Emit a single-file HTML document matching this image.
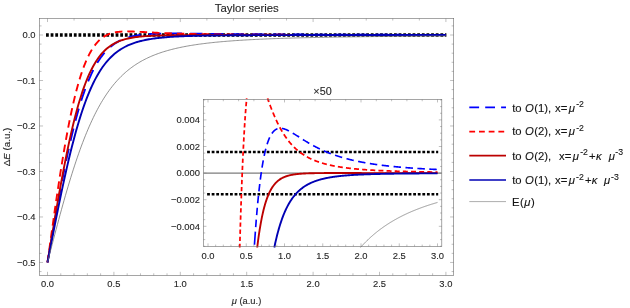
<!DOCTYPE html>
<html><head><meta charset="utf-8"><title>Taylor series</title>
<style>
html,body{margin:0;padding:0;background:#fff;}
body{width:630px;height:308px;position:relative;overflow:hidden;font-family:"Liberation Sans",sans-serif;color:#262626;}
.t{position:absolute;white-space:nowrap;line-height:1;-webkit-text-stroke:0.12px currentColor;}
.t.tk{letter-spacing:0;}
.t.c{transform:translate(-50%,-50%);}
.t.r{transform:translate(-100%,-50%);}
.t.l{transform:translate(0,-50%);}
.t.rot{transform:translate(-50%,-50%) rotate(-90deg);}
.k{color:#141414;position:absolute;white-space:nowrap;line-height:1;-webkit-text-stroke:0.12px currentColor;}
.t i,.k i{font-style:italic;}
#tx{position:absolute;left:0;top:0;width:630px;height:308px;will-change:transform;}
</style></head><body>
<svg width="630" height="308" viewBox="0 0 630 308" style="position:absolute;left:0;top:0">
<rect width="630" height="308" fill="#fff"/>
<defs><clipPath id="cm"><rect x="39.45" y="18.45" width="414.25" height="256.95"/></clipPath>
<clipPath id="ci"><rect x="203.45" y="97.95" width="238.35" height="149.95"/></clipPath></defs>
<g clip-path="url(#cm)" fill="none" stroke-linecap="butt" stroke-linejoin="round">
<path d="M46.00 35.00 H446.40" stroke="#000" stroke-width="3.30" stroke-dasharray="2.8 1.84"/>
<path d="M47.50 262.45 L48.16 258.60 L49.49 250.91 L50.82 243.24 L52.15 235.61 L53.48 228.03 L54.80 220.52 L56.13 213.10 L57.46 205.76 L58.79 198.54 L60.12 191.43 L61.44 184.45 L62.77 177.62 L64.10 170.93 L65.43 164.40 L66.76 158.04 L68.08 151.85 L69.41 145.84 L70.74 140.02 L72.07 134.38 L73.40 128.93 L74.72 123.68 L76.05 118.62 L77.38 113.76 L78.71 109.09 L80.04 104.61 L81.36 100.33 L82.69 96.24 L84.02 92.34 L85.35 88.62 L86.68 85.09 L88.00 81.73 L89.33 78.55 L90.66 75.53 L91.99 72.68 L93.32 69.99 L94.64 67.45 L95.97 65.05 L97.30 62.80 L98.63 60.68 L99.96 58.69 L101.28 56.82 L102.61 55.08 L103.94 53.44 L105.27 51.91 L106.60 50.49 L107.92 49.15 L109.25 47.91 L110.58 46.76 L111.91 45.68 L113.24 44.68 L114.56 43.75 L115.89 42.89 L117.22 42.10 L118.55 41.36 L119.88 40.67 L121.20 40.04 L122.53 39.46 L123.86 38.92 L125.19 38.42 L126.52 37.96 L127.84 37.54 L129.17 37.15 L130.50 36.79 L131.83 36.47 L133.16 36.17 L134.48 35.89 L135.81 35.64 L137.14 35.41 L138.47 35.20 L139.80 35.01 L141.12 34.83 L142.45 34.67 L143.78 34.53 L145.11 34.40 L146.44 34.28 L147.76 34.18 L149.09 34.08 L150.42 33.99 L151.75 33.92 L153.08 33.85 L154.40 33.79 L155.73 33.73 L157.06 33.69 L158.39 33.64 L159.72 33.61 L161.04 33.58 L162.37 33.55 L163.70 33.53 L165.03 33.51 L166.36 33.50 L167.68 33.49 L169.01 33.48 L170.34 33.47 L171.67 33.47 L173.00 33.47 L174.32 33.47 L175.65 33.47 L176.98 33.48 L178.31 33.48 L179.64 33.49 L180.96 33.50 L182.29 33.51 L183.62 33.52 L184.95 33.53 L186.28 33.54 L187.60 33.55 L188.93 33.57 L190.26 33.58 L191.59 33.60 L192.92 33.61 L194.24 33.63 L195.57 33.64 L196.90 33.66 L198.23 33.68 L199.56 33.69 L200.88 33.71 L202.21 33.73 L203.54 33.74 L204.87 33.76 L206.20 33.78 L207.52 33.79 L208.85 33.81 L210.18 33.83 L211.51 33.84 L212.84 33.86 L214.16 33.87 L215.49 33.89 L216.82 33.91 L218.15 33.92 L219.48 33.94 L220.80 33.95 L222.13 33.97 L223.46 33.98 L224.79 34.00 L226.12 34.01 L227.44 34.03 L228.77 34.04 L230.10 34.06 L231.43 34.07 L232.76 34.09 L234.08 34.10 L235.41 34.11 L236.74 34.13 L238.07 34.14 L239.40 34.15 L240.72 34.17 L242.05 34.18 L243.38 34.19 L244.71 34.20 L246.04 34.21 L247.36 34.23 L248.69 34.24 L250.02 34.25 L251.35 34.26 L252.68 34.27 L254.00 34.28 L255.33 34.29 L256.66 34.30 L257.99 34.31 L259.32 34.32 L260.64 34.33 L261.97 34.34 L263.30 34.35 L264.63 34.36 L265.96 34.37 L267.28 34.38 L268.61 34.39 L269.94 34.40 L271.27 34.41 L272.60 34.42 L273.92 34.43 L275.25 34.43 L276.58 34.44 L277.91 34.45 L279.24 34.46 L280.56 34.47 L281.89 34.47 L283.22 34.48 L284.55 34.49 L285.88 34.50 L287.20 34.50 L288.53 34.51 L289.86 34.52 L291.19 34.52 L292.52 34.53 L293.84 34.54 L295.17 34.54 L296.50 34.55 L297.83 34.56 L299.16 34.56 L300.48 34.57 L301.81 34.57 L303.14 34.58 L304.47 34.58 L305.80 34.59 L307.12 34.60 L308.45 34.60 L309.78 34.61 L311.11 34.61 L312.44 34.62 L313.76 34.62 L315.09 34.63 L316.42 34.63 L317.75 34.64 L319.08 34.64 L320.40 34.65 L321.73 34.65 L323.06 34.66 L324.39 34.66 L325.72 34.66 L327.04 34.67 L328.37 34.67 L329.70 34.68 L331.03 34.68 L332.36 34.69 L333.68 34.69 L335.01 34.69 L336.34 34.70 L337.67 34.70 L339.00 34.70 L340.32 34.71 L341.65 34.71 L342.98 34.71 L344.31 34.72 L345.64 34.72 L346.96 34.73 L348.29 34.73 L349.62 34.73 L350.95 34.74 L352.28 34.74 L353.60 34.74 L354.93 34.74 L356.26 34.75 L357.59 34.75 L358.92 34.75 L360.24 34.76 L361.57 34.76 L362.90 34.76 L364.23 34.76 L365.56 34.77 L366.88 34.77 L368.21 34.77 L369.54 34.78 L370.87 34.78 L372.20 34.78 L373.52 34.78 L374.85 34.79 L376.18 34.79 L377.51 34.79 L378.84 34.79 L380.16 34.79 L381.49 34.80 L382.82 34.80 L384.15 34.80 L385.48 34.80 L386.80 34.81 L388.13 34.81 L389.46 34.81 L390.79 34.81 L392.12 34.81 L393.44 34.82 L394.77 34.82 L396.10 34.82 L397.43 34.82 L398.76 34.82 L400.08 34.83 L401.41 34.83 L402.74 34.83 L404.07 34.83 L405.40 34.83 L406.72 34.84 L408.05 34.84 L409.38 34.84 L410.71 34.84 L412.04 34.84 L413.36 34.84 L414.69 34.85 L416.02 34.85 L417.35 34.85 L418.68 34.85 L420.00 34.85 L421.33 34.85 L422.66 34.85 L423.99 34.86 L425.32 34.86 L426.64 34.86 L427.97 34.86 L429.30 34.86 L430.63 34.86 L431.96 34.86 L433.28 34.87 L434.61 34.87 L435.94 34.87 L437.27 34.87 L438.60 34.87 L439.92 34.87 L441.25 34.87 L442.58 34.87 L443.91 34.88 L445.24 34.88 L445.90 34.88" stroke="#0000ff" stroke-width="1.90" stroke-dasharray="12.5 8.15" stroke-dashoffset="0.00"/>
<path d="M47.50 262.45 L48.16 257.64 L49.49 248.03 L50.82 238.46 L52.15 228.96 L53.48 219.55 L54.80 210.25 L56.13 201.10 L57.46 192.11 L58.79 183.30 L60.12 174.70 L61.44 166.32 L62.77 158.17 L64.10 150.28 L65.43 142.65 L66.76 135.29 L68.08 128.22 L69.41 121.43 L70.74 114.94 L72.07 108.74 L73.40 102.85 L74.72 97.25 L76.05 91.95 L77.38 86.95 L78.71 82.23 L80.04 77.80 L81.36 73.65 L82.69 69.78 L84.02 66.16 L85.35 62.80 L86.68 59.68 L88.00 56.80 L89.33 54.15 L90.66 51.70 L91.99 49.46 L93.32 47.41 L94.64 45.55 L95.97 43.85 L97.30 42.31 L98.63 40.92 L99.96 39.67 L101.28 38.54 L102.61 37.54 L103.94 36.64 L105.27 35.85 L106.60 35.15 L107.92 34.53 L109.25 33.99 L110.58 33.52 L111.91 33.12 L113.24 32.77 L114.56 32.47 L115.89 32.22 L117.22 32.02 L118.55 31.85 L119.88 31.71 L121.20 31.61 L122.53 31.53 L123.86 31.47 L125.19 31.44 L126.52 31.42 L127.84 31.42 L129.17 31.43 L130.50 31.46 L131.83 31.49 L133.16 31.53 L134.48 31.58 L135.81 31.64 L137.14 31.70 L138.47 31.76 L139.80 31.83 L141.12 31.90 L142.45 31.97 L143.78 32.05 L145.11 32.12 L146.44 32.20 L147.76 32.27 L149.09 32.34 L150.42 32.42 L151.75 32.49 L153.08 32.56 L154.40 32.63 L155.73 32.70 L157.06 32.77 L158.39 32.84 L159.72 32.90 L161.04 32.97 L162.37 33.03 L163.70 33.09 L165.03 33.15 L166.36 33.21 L167.68 33.26 L169.01 33.32 L170.34 33.37 L171.67 33.42 L173.00 33.47 L174.32 33.51 L175.65 33.56 L176.98 33.60 L178.31 33.65 L179.64 33.69 L180.96 33.73 L182.29 33.77 L183.62 33.80 L184.95 33.84 L186.28 33.87 L187.60 33.91 L188.93 33.94 L190.26 33.97 L191.59 34.00 L192.92 34.03 L194.24 34.06 L195.57 34.09 L196.90 34.11 L198.23 34.14 L199.56 34.16 L200.88 34.19 L202.21 34.21 L203.54 34.23 L204.87 34.25 L206.20 34.27 L207.52 34.29 L208.85 34.31 L210.18 34.33 L211.51 34.35 L212.84 34.37 L214.16 34.38 L215.49 34.40 L216.82 34.42 L218.15 34.43 L219.48 34.45 L220.80 34.46 L222.13 34.47 L223.46 34.49 L224.79 34.50 L226.12 34.51 L227.44 34.52 L228.77 34.54 L230.10 34.55 L231.43 34.56 L232.76 34.57 L234.08 34.58 L235.41 34.59 L236.74 34.60 L238.07 34.61 L239.40 34.62 L240.72 34.63 L242.05 34.64 L243.38 34.64 L244.71 34.65 L246.04 34.66 L247.36 34.67 L248.69 34.68 L250.02 34.68 L251.35 34.69 L252.68 34.70 L254.00 34.70 L255.33 34.71 L256.66 34.72 L257.99 34.72 L259.32 34.73 L260.64 34.73 L261.97 34.74 L263.30 34.74 L264.63 34.75 L265.96 34.75 L267.28 34.76 L268.61 34.76 L269.94 34.77 L271.27 34.77 L272.60 34.78 L273.92 34.78 L275.25 34.79 L276.58 34.79 L277.91 34.80 L279.24 34.80 L280.56 34.80 L281.89 34.81 L283.22 34.81 L284.55 34.81 L285.88 34.82 L287.20 34.82 L288.53 34.82 L289.86 34.83 L291.19 34.83 L292.52 34.83 L293.84 34.84 L295.17 34.84 L296.50 34.84 L297.83 34.84 L299.16 34.85 L300.48 34.85 L301.81 34.85 L303.14 34.86 L304.47 34.86 L305.80 34.86 L307.12 34.86 L308.45 34.87 L309.78 34.87 L311.11 34.87 L312.44 34.87 L313.76 34.87 L315.09 34.88 L316.42 34.88 L317.75 34.88 L319.08 34.88 L320.40 34.88 L321.73 34.89 L323.06 34.89 L324.39 34.89 L325.72 34.89 L327.04 34.89 L328.37 34.89 L329.70 34.90 L331.03 34.90 L332.36 34.90 L333.68 34.90 L335.01 34.90 L336.34 34.90 L337.67 34.90 L339.00 34.91 L340.32 34.91 L341.65 34.91 L342.98 34.91 L344.31 34.91 L345.64 34.91 L346.96 34.91 L348.29 34.92 L349.62 34.92 L350.95 34.92 L352.28 34.92 L353.60 34.92 L354.93 34.92 L356.26 34.92 L357.59 34.92 L358.92 34.92 L360.24 34.93 L361.57 34.93 L362.90 34.93 L364.23 34.93 L365.56 34.93 L366.88 34.93 L368.21 34.93 L369.54 34.93 L370.87 34.93 L372.20 34.93 L373.52 34.93 L374.85 34.94 L376.18 34.94 L377.51 34.94 L378.84 34.94 L380.16 34.94 L381.49 34.94 L382.82 34.94 L384.15 34.94 L385.48 34.94 L386.80 34.94 L388.13 34.94 L389.46 34.94 L390.79 34.94 L392.12 34.95 L393.44 34.95 L394.77 34.95 L396.10 34.95 L397.43 34.95 L398.76 34.95 L400.08 34.95 L401.41 34.95 L402.74 34.95 L404.07 34.95 L405.40 34.95 L406.72 34.95 L408.05 34.95 L409.38 34.95 L410.71 34.95 L412.04 34.95 L413.36 34.96 L414.69 34.96 L416.02 34.96 L417.35 34.96 L418.68 34.96 L420.00 34.96 L421.33 34.96 L422.66 34.96 L423.99 34.96 L425.32 34.96 L426.64 34.96 L427.97 34.96 L429.30 34.96 L430.63 34.96 L431.96 34.96 L433.28 34.96 L434.61 34.96 L435.94 34.96 L437.27 34.96 L438.60 34.96 L439.92 34.96 L441.25 34.96 L442.58 34.96 L443.91 34.97 L445.24 34.97 L445.90 34.97" stroke="#ff0000" stroke-width="1.90" stroke-dasharray="7.5 4.9" stroke-dashoffset="0.00"/>
<path d="M47.50 262.45 L48.16 258.46 L49.49 250.46 L50.82 242.47 L52.15 234.51 L53.48 226.59 L54.80 218.73 L56.13 210.96 L57.46 203.28 L58.79 195.72 L60.12 188.28 L61.44 180.99 L62.77 173.85 L64.10 166.88 L65.43 160.09 L66.76 153.49 L68.08 147.09 L69.41 140.89 L70.74 134.91 L72.07 129.13 L73.40 123.58 L74.72 118.25 L76.05 113.14 L77.38 108.25 L78.71 103.59 L80.04 99.15 L81.36 94.92 L82.69 90.91 L84.02 87.12 L85.35 83.52 L86.68 80.13 L88.00 76.94 L89.33 73.93 L90.66 71.11 L91.99 68.46 L93.32 65.98 L94.64 63.66 L95.97 61.49 L97.30 59.47 L98.63 57.59 L99.96 55.84 L101.28 54.21 L102.61 52.70 L103.94 51.30 L105.27 50.01 L106.60 48.81 L107.92 47.70 L109.25 46.68 L110.58 45.74 L111.91 44.86 L113.24 44.06 L114.56 43.32 L115.89 42.64 L117.22 42.02 L118.55 41.44 L119.88 40.91 L121.20 40.43 L122.53 39.98 L123.86 39.57 L125.19 39.20 L126.52 38.85 L127.84 38.53 L129.17 38.24 L130.50 37.98 L131.83 37.73 L133.16 37.51 L134.48 37.30 L135.81 37.12 L137.14 36.94 L138.47 36.79 L139.80 36.64 L141.12 36.51 L142.45 36.39 L143.78 36.27 L145.11 36.17 L146.44 36.08 L147.76 35.99 L149.09 35.91 L150.42 35.84 L151.75 35.77 L153.08 35.71 L154.40 35.65 L155.73 35.60 L157.06 35.55 L158.39 35.51 L159.72 35.47 L161.04 35.43 L162.37 35.40 L163.70 35.37 L165.03 35.34 L166.36 35.31 L167.68 35.29 L169.01 35.26 L170.34 35.24 L171.67 35.22 L173.00 35.21 L174.32 35.19 L175.65 35.18 L176.98 35.16 L178.31 35.15 L179.64 35.14 L180.96 35.13 L182.29 35.12 L183.62 35.11 L184.95 35.10 L186.28 35.09 L187.60 35.08 L188.93 35.08 L190.26 35.07 L191.59 35.07 L192.92 35.06 L194.24 35.05 L195.57 35.05 L196.90 35.05 L198.23 35.04 L199.56 35.04 L200.88 35.04 L202.21 35.03 L203.54 35.03 L204.87 35.03 L206.20 35.02 L207.52 35.02 L208.85 35.02 L210.18 35.02 L211.51 35.02 L212.84 35.02 L214.16 35.01 L215.49 35.01 L216.82 35.01 L218.15 35.01 L219.48 35.01 L220.80 35.01 L222.13 35.01 L223.46 35.01 L224.79 35.01 L226.12 35.01 L227.44 35.00 L228.77 35.00 L230.10 35.00 L231.43 35.00 L232.76 35.00 L234.08 35.00 L235.41 35.00 L236.74 35.00 L238.07 35.00 L239.40 35.00 L240.72 35.00 L242.05 35.00 L243.38 35.00 L244.71 35.00 L246.04 35.00 L247.36 35.00 L248.69 35.00 L250.02 35.00 L251.35 35.00 L252.68 35.00 L254.00 35.00 L255.33 35.00 L256.66 35.00 L257.99 35.00 L259.32 35.00 L260.64 35.00 L261.97 35.00 L263.30 35.00 L264.63 35.00 L265.96 35.00 L267.28 35.00 L268.61 35.00 L269.94 35.00 L271.27 35.00 L272.60 35.00 L273.92 35.00 L275.25 35.00 L276.58 35.00 L277.91 35.00 L279.24 35.00 L280.56 35.00 L281.89 35.00 L283.22 35.00 L284.55 35.00 L285.88 35.00 L287.20 35.00 L288.53 35.00 L289.86 35.00 L291.19 35.00 L292.52 35.00 L293.84 35.00 L295.17 35.00 L296.50 35.00 L297.83 35.00 L299.16 35.00 L300.48 35.00 L301.81 35.00 L303.14 35.00 L304.47 35.00 L305.80 35.00 L307.12 35.00 L308.45 35.00 L309.78 35.00 L311.11 35.00 L312.44 35.00 L313.76 35.00 L315.09 35.00 L316.42 35.00 L317.75 35.00 L319.08 35.00 L320.40 35.00 L321.73 35.00 L323.06 35.00 L324.39 35.00 L325.72 35.00 L327.04 35.00 L328.37 35.00 L329.70 35.00 L331.03 35.00 L332.36 35.00 L333.68 35.00 L335.01 35.00 L336.34 35.00 L337.67 35.00 L339.00 35.00 L340.32 35.00 L341.65 35.00 L342.98 35.00 L344.31 35.00 L345.64 35.00 L346.96 35.00 L348.29 35.00 L349.62 35.00 L350.95 35.00 L352.28 35.00 L353.60 35.00 L354.93 35.00 L356.26 35.00 L357.59 35.00 L358.92 35.00 L360.24 35.00 L361.57 35.00 L362.90 35.00 L364.23 35.00 L365.56 35.00 L366.88 35.00 L368.21 35.00 L369.54 35.00 L370.87 35.00 L372.20 35.00 L373.52 35.00 L374.85 35.00 L376.18 35.00 L377.51 35.00 L378.84 35.00 L380.16 35.00 L381.49 35.00 L382.82 35.00 L384.15 35.00 L385.48 35.00 L386.80 35.00 L388.13 35.00 L389.46 35.00 L390.79 35.00 L392.12 35.00 L393.44 35.00 L394.77 35.00 L396.10 35.00 L397.43 35.00 L398.76 35.00 L400.08 35.00 L401.41 35.00 L402.74 35.00 L404.07 35.00 L405.40 35.00 L406.72 35.00 L408.05 35.00 L409.38 35.00 L410.71 35.00 L412.04 35.00 L413.36 35.00 L414.69 35.00 L416.02 35.00 L417.35 35.00 L418.68 35.00 L420.00 35.00 L421.33 35.00 L422.66 35.00 L423.99 35.00 L425.32 35.00 L426.64 35.00 L427.97 35.00 L429.30 35.00 L430.63 35.00 L431.96 35.00 L433.28 35.00 L434.61 35.00 L435.94 35.00 L437.27 35.00 L438.60 35.00 L439.92 35.00 L441.25 35.00 L442.58 35.00 L443.91 35.00 L445.24 35.00 L445.90 35.00" stroke="#bc0000" stroke-width="1.90"/>
<path d="M47.50 262.45 L48.16 259.03 L49.49 252.18 L50.82 245.34 L52.15 238.52 L53.48 231.73 L54.80 224.99 L56.13 218.31 L57.46 211.69 L58.79 205.15 L60.12 198.70 L61.44 192.35 L62.77 186.11 L64.10 179.98 L65.43 173.98 L66.76 168.11 L68.08 162.37 L69.41 156.78 L70.74 151.34 L72.07 146.04 L73.40 140.91 L74.72 135.93 L76.05 131.12 L77.38 126.46 L78.71 121.97 L80.04 117.64 L81.36 113.48 L82.69 109.47 L84.02 105.63 L85.35 101.95 L86.68 98.42 L88.00 95.05 L89.33 91.82 L90.66 88.75 L91.99 85.82 L93.32 83.03 L94.64 80.37 L95.97 77.85 L97.30 75.45 L98.63 73.18 L99.96 71.02 L101.28 68.98 L102.61 67.05 L103.94 65.22 L105.27 63.49 L106.60 61.86 L107.92 60.32 L109.25 58.86 L110.58 57.49 L111.91 56.20 L113.24 54.98 L114.56 53.83 L115.89 52.75 L117.22 51.73 L118.55 50.77 L119.88 49.87 L121.20 49.02 L122.53 48.22 L123.86 47.47 L125.19 46.77 L126.52 46.10 L127.84 45.48 L129.17 44.89 L130.50 44.34 L131.83 43.82 L133.16 43.33 L134.48 42.87 L135.81 42.44 L137.14 42.03 L138.47 41.65 L139.80 41.29 L141.12 40.95 L142.45 40.64 L143.78 40.34 L145.11 40.05 L146.44 39.79 L147.76 39.54 L149.09 39.30 L150.42 39.08 L151.75 38.87 L153.08 38.67 L154.40 38.49 L155.73 38.31 L157.06 38.14 L158.39 37.99 L159.72 37.84 L161.04 37.70 L162.37 37.57 L163.70 37.44 L165.03 37.33 L166.36 37.22 L167.68 37.11 L169.01 37.01 L170.34 36.92 L171.67 36.83 L173.00 36.74 L174.32 36.66 L175.65 36.59 L176.98 36.51 L178.31 36.45 L179.64 36.38 L180.96 36.32 L182.29 36.26 L183.62 36.21 L184.95 36.15 L186.28 36.10 L187.60 36.06 L188.93 36.01 L190.26 35.97 L191.59 35.93 L192.92 35.89 L194.24 35.85 L195.57 35.82 L196.90 35.78 L198.23 35.75 L199.56 35.72 L200.88 35.69 L202.21 35.67 L203.54 35.64 L204.87 35.61 L206.20 35.59 L207.52 35.57 L208.85 35.55 L210.18 35.52 L211.51 35.51 L212.84 35.49 L214.16 35.47 L215.49 35.45 L216.82 35.43 L218.15 35.42 L219.48 35.40 L220.80 35.39 L222.13 35.37 L223.46 35.36 L224.79 35.35 L226.12 35.34 L227.44 35.32 L228.77 35.31 L230.10 35.30 L231.43 35.29 L232.76 35.28 L234.08 35.27 L235.41 35.26 L236.74 35.25 L238.07 35.25 L239.40 35.24 L240.72 35.23 L242.05 35.22 L243.38 35.22 L244.71 35.21 L246.04 35.20 L247.36 35.20 L248.69 35.19 L250.02 35.18 L251.35 35.18 L252.68 35.17 L254.00 35.17 L255.33 35.16 L256.66 35.16 L257.99 35.15 L259.32 35.15 L260.64 35.14 L261.97 35.14 L263.30 35.13 L264.63 35.13 L265.96 35.13 L267.28 35.12 L268.61 35.12 L269.94 35.12 L271.27 35.11 L272.60 35.11 L273.92 35.11 L275.25 35.10 L276.58 35.10 L277.91 35.10 L279.24 35.10 L280.56 35.09 L281.89 35.09 L283.22 35.09 L284.55 35.09 L285.88 35.08 L287.20 35.08 L288.53 35.08 L289.86 35.08 L291.19 35.07 L292.52 35.07 L293.84 35.07 L295.17 35.07 L296.50 35.07 L297.83 35.07 L299.16 35.06 L300.48 35.06 L301.81 35.06 L303.14 35.06 L304.47 35.06 L305.80 35.06 L307.12 35.06 L308.45 35.05 L309.78 35.05 L311.11 35.05 L312.44 35.05 L313.76 35.05 L315.09 35.05 L316.42 35.05 L317.75 35.05 L319.08 35.04 L320.40 35.04 L321.73 35.04 L323.06 35.04 L324.39 35.04 L325.72 35.04 L327.04 35.04 L328.37 35.04 L329.70 35.04 L331.03 35.04 L332.36 35.04 L333.68 35.03 L335.01 35.03 L336.34 35.03 L337.67 35.03 L339.00 35.03 L340.32 35.03 L341.65 35.03 L342.98 35.03 L344.31 35.03 L345.64 35.03 L346.96 35.03 L348.29 35.03 L349.62 35.03 L350.95 35.03 L352.28 35.03 L353.60 35.03 L354.93 35.02 L356.26 35.02 L357.59 35.02 L358.92 35.02 L360.24 35.02 L361.57 35.02 L362.90 35.02 L364.23 35.02 L365.56 35.02 L366.88 35.02 L368.21 35.02 L369.54 35.02 L370.87 35.02 L372.20 35.02 L373.52 35.02 L374.85 35.02 L376.18 35.02 L377.51 35.02 L378.84 35.02 L380.16 35.02 L381.49 35.02 L382.82 35.02 L384.15 35.02 L385.48 35.02 L386.80 35.02 L388.13 35.02 L389.46 35.02 L390.79 35.01 L392.12 35.01 L393.44 35.01 L394.77 35.01 L396.10 35.01 L397.43 35.01 L398.76 35.01 L400.08 35.01 L401.41 35.01 L402.74 35.01 L404.07 35.01 L405.40 35.01 L406.72 35.01 L408.05 35.01 L409.38 35.01 L410.71 35.01 L412.04 35.01 L413.36 35.01 L414.69 35.01 L416.02 35.01 L417.35 35.01 L418.68 35.01 L420.00 35.01 L421.33 35.01 L422.66 35.01 L423.99 35.01 L425.32 35.01 L426.64 35.01 L427.97 35.01 L429.30 35.01 L430.63 35.01 L431.96 35.01 L433.28 35.01 L434.61 35.01 L435.94 35.01 L437.27 35.01 L438.60 35.01 L439.92 35.01 L441.25 35.01 L442.58 35.01 L443.91 35.01 L445.24 35.01 L445.90 35.01" stroke="#0000b4" stroke-width="1.90"/>
<path d="M47.50 262.45 L48.16 259.88 L49.49 254.75 L50.82 249.63 L52.15 244.53 L53.48 239.44 L54.80 234.39 L56.13 229.36 L57.46 224.38 L58.79 219.44 L60.12 214.54 L61.44 209.71 L62.77 204.93 L64.10 200.21 L65.43 195.56 L66.76 190.98 L68.08 186.47 L69.41 182.04 L70.74 177.70 L72.07 173.43 L73.40 169.25 L74.72 165.16 L76.05 161.16 L77.38 157.25 L78.71 153.43 L80.04 149.70 L81.36 146.07 L82.69 142.53 L84.02 139.08 L85.35 135.73 L86.68 132.47 L88.00 129.30 L89.33 126.23 L90.66 123.25 L91.99 120.36 L93.32 117.56 L94.64 114.84 L95.97 112.21 L97.30 109.67 L98.63 107.21 L99.96 104.84 L101.28 102.54 L102.61 100.32 L103.94 98.18 L105.27 96.11 L106.60 94.11 L107.92 92.19 L109.25 90.33 L110.58 88.54 L111.91 86.81 L113.24 85.15 L114.56 83.54 L115.89 81.99 L117.22 80.50 L118.55 79.07 L119.88 77.68 L121.20 76.35 L122.53 75.07 L123.86 73.83 L125.19 72.64 L126.52 71.49 L127.84 70.38 L129.17 69.32 L130.50 68.29 L131.83 67.30 L133.16 66.35 L134.48 65.43 L135.81 64.54 L137.14 63.69 L138.47 62.87 L139.80 62.07 L141.12 61.31 L142.45 60.57 L143.78 59.86 L145.11 59.17 L146.44 58.51 L147.76 57.87 L149.09 57.25 L150.42 56.66 L151.75 56.08 L153.08 55.53 L154.40 54.99 L155.73 54.48 L157.06 53.98 L158.39 53.49 L159.72 53.02 L161.04 52.57 L162.37 52.14 L163.70 51.71 L165.03 51.30 L166.36 50.91 L167.68 50.53 L169.01 50.16 L170.34 49.80 L171.67 49.45 L173.00 49.11 L174.32 48.79 L175.65 48.47 L176.98 48.16 L178.31 47.87 L179.64 47.58 L180.96 47.30 L182.29 47.03 L183.62 46.77 L184.95 46.51 L186.28 46.27 L187.60 46.03 L188.93 45.79 L190.26 45.57 L191.59 45.35 L192.92 45.13 L194.24 44.93 L195.57 44.73 L196.90 44.53 L198.23 44.34 L199.56 44.15 L200.88 43.97 L202.21 43.80 L203.54 43.63 L204.87 43.46 L206.20 43.30 L207.52 43.14 L208.85 42.99 L210.18 42.84 L211.51 42.69 L212.84 42.55 L214.16 42.42 L215.49 42.28 L216.82 42.15 L218.15 42.02 L219.48 41.90 L220.80 41.78 L222.13 41.66 L223.46 41.54 L224.79 41.43 L226.12 41.32 L227.44 41.21 L228.77 41.11 L230.10 41.01 L231.43 40.91 L232.76 40.81 L234.08 40.71 L235.41 40.62 L236.74 40.53 L238.07 40.44 L239.40 40.35 L240.72 40.27 L242.05 40.19 L243.38 40.10 L244.71 40.03 L246.04 39.95 L247.36 39.87 L248.69 39.80 L250.02 39.72 L251.35 39.65 L252.68 39.58 L254.00 39.52 L255.33 39.45 L256.66 39.38 L257.99 39.32 L259.32 39.26 L260.64 39.20 L261.97 39.14 L263.30 39.08 L264.63 39.02 L265.96 38.96 L267.28 38.91 L268.61 38.85 L269.94 38.80 L271.27 38.75 L272.60 38.70 L273.92 38.65 L275.25 38.60 L276.58 38.55 L277.91 38.50 L279.24 38.46 L280.56 38.41 L281.89 38.37 L283.22 38.32 L284.55 38.28 L285.88 38.24 L287.20 38.20 L288.53 38.16 L289.86 38.12 L291.19 38.08 L292.52 38.04 L293.84 38.00 L295.17 37.97 L296.50 37.93 L297.83 37.89 L299.16 37.86 L300.48 37.82 L301.81 37.79 L303.14 37.76 L304.47 37.72 L305.80 37.69 L307.12 37.66 L308.45 37.63 L309.78 37.60 L311.11 37.57 L312.44 37.54 L313.76 37.51 L315.09 37.48 L316.42 37.45 L317.75 37.43 L319.08 37.40 L320.40 37.37 L321.73 37.35 L323.06 37.32 L324.39 37.29 L325.72 37.27 L327.04 37.24 L328.37 37.22 L329.70 37.20 L331.03 37.17 L332.36 37.15 L333.68 37.13 L335.01 37.10 L336.34 37.08 L337.67 37.06 L339.00 37.04 L340.32 37.02 L341.65 37.00 L342.98 36.98 L344.31 36.96 L345.64 36.94 L346.96 36.92 L348.29 36.90 L349.62 36.88 L350.95 36.86 L352.28 36.84 L353.60 36.82 L354.93 36.81 L356.26 36.79 L357.59 36.77 L358.92 36.75 L360.24 36.74 L361.57 36.72 L362.90 36.70 L364.23 36.69 L365.56 36.67 L366.88 36.65 L368.21 36.64 L369.54 36.62 L370.87 36.61 L372.20 36.59 L373.52 36.58 L374.85 36.56 L376.18 36.55 L377.51 36.54 L378.84 36.52 L380.16 36.51 L381.49 36.49 L382.82 36.48 L384.15 36.47 L385.48 36.46 L386.80 36.44 L388.13 36.43 L389.46 36.42 L390.79 36.40 L392.12 36.39 L393.44 36.38 L394.77 36.37 L396.10 36.36 L397.43 36.34 L398.76 36.33 L400.08 36.32 L401.41 36.31 L402.74 36.30 L404.07 36.29 L405.40 36.28 L406.72 36.27 L408.05 36.26 L409.38 36.25 L410.71 36.24 L412.04 36.23 L413.36 36.22 L414.69 36.21 L416.02 36.20 L417.35 36.19 L418.68 36.18 L420.00 36.17 L421.33 36.16 L422.66 36.15 L423.99 36.14 L425.32 36.13 L426.64 36.12 L427.97 36.11 L429.30 36.10 L430.63 36.10 L431.96 36.09 L433.28 36.08 L434.61 36.07 L435.94 36.06 L437.27 36.05 L438.60 36.05 L439.92 36.04 L441.25 36.03 L442.58 36.02 L443.91 36.02 L445.24 36.01 L445.90 36.00" stroke="#6e6e6e" stroke-width="0.75"/>
</g>
<path d="M47.50 275.40 v-3.60 M47.50 18.45 v3.60 M60.78 275.40 v-2.10 M74.06 275.40 v-2.10 M74.06 18.45 v2.10 M87.34 275.40 v-2.10 M100.62 275.40 v-2.10 M100.62 18.45 v2.10 M113.90 275.40 v-3.60 M127.18 275.40 v-2.10 M127.18 18.45 v2.10 M140.46 275.40 v-2.10 M153.74 275.40 v-2.10 M153.74 18.45 v2.10 M167.02 275.40 v-2.10 M180.30 275.40 v-3.60 M180.30 18.45 v3.60 M193.58 275.40 v-2.10 M206.86 275.40 v-2.10 M206.86 18.45 v2.10 M220.14 275.40 v-2.10 M233.42 275.40 v-2.10 M233.42 18.45 v2.10 M246.70 275.40 v-3.60 M259.98 275.40 v-2.10 M259.98 18.45 v2.10 M273.26 275.40 v-2.10 M286.54 275.40 v-2.10 M286.54 18.45 v2.10 M299.82 275.40 v-2.10 M313.10 275.40 v-3.60 M313.10 18.45 v3.60 M326.38 275.40 v-2.10 M339.66 275.40 v-2.10 M339.66 18.45 v2.10 M352.94 275.40 v-2.10 M366.22 275.40 v-2.10 M366.22 18.45 v2.10 M379.50 275.40 v-3.60 M392.78 275.40 v-2.10 M392.78 18.45 v2.10 M406.06 275.40 v-2.10 M419.34 275.40 v-2.10 M419.34 18.45 v2.10 M432.62 275.40 v-2.10 M445.90 275.40 v-3.60 M445.90 18.45 v3.60 M39.45 271.55 h2.10 M453.70 271.55 h-2.10 M39.45 262.45 h3.60 M453.70 262.45 h-3.60 M39.45 253.35 h2.10 M453.70 253.35 h-2.10 M39.45 244.25 h2.10 M453.70 244.25 h-2.10 M39.45 235.16 h2.10 M453.70 235.16 h-2.10 M39.45 226.06 h2.10 M453.70 226.06 h-2.10 M39.45 216.96 h3.60 M453.70 216.96 h-3.60 M39.45 207.86 h2.10 M453.70 207.86 h-2.10 M39.45 198.76 h2.10 M453.70 198.76 h-2.10 M39.45 189.67 h2.10 M453.70 189.67 h-2.10 M39.45 180.57 h2.10 M453.70 180.57 h-2.10 M39.45 171.47 h3.60 M453.70 171.47 h-3.60 M39.45 162.37 h2.10 M453.70 162.37 h-2.10 M39.45 153.27 h2.10 M453.70 153.27 h-2.10 M39.45 144.18 h2.10 M453.70 144.18 h-2.10 M39.45 135.08 h2.10 M453.70 135.08 h-2.10 M39.45 125.98 h3.60 M453.70 125.98 h-3.60 M39.45 116.88 h2.10 M453.70 116.88 h-2.10 M39.45 107.78 h2.10 M453.70 107.78 h-2.10 M39.45 98.69 h2.10 M453.70 98.69 h-2.10 M39.45 89.59 h2.10 M453.70 89.59 h-2.10 M39.45 80.49 h3.60 M453.70 80.49 h-3.60 M39.45 71.39 h2.10 M453.70 71.39 h-2.10 M39.45 62.29 h2.10 M453.70 62.29 h-2.10 M39.45 53.20 h2.10 M453.70 53.20 h-2.10 M39.45 44.10 h2.10 M453.70 44.10 h-2.10 M39.45 35.00 h3.60 M453.70 35.00 h-3.60 M39.45 25.90 h2.10 M453.70 25.90 h-2.10" stroke="#808080" stroke-width="0.50" fill="none"/>
<rect x="39.45" y="18.45" width="414.25" height="256.95" fill="none" stroke="#6a6a6a" stroke-width="0.60"/>
<rect x="203.45" y="99.45" width="238.35" height="146.95" fill="#fff"/>
<g clip-path="url(#ci)" fill="none" stroke-linecap="butt" stroke-linejoin="round">
<path d="M203.45 173.10 H441.80" stroke="#7c7c7c" stroke-width="1.05"/>
<path d="M207.10 151.95 H438.20" stroke="#000" stroke-width="2.50" stroke-dasharray="2.8 1.78"/>
<path d="M207.10 194.25 H438.20" stroke="#000" stroke-width="2.50" stroke-dasharray="2.8 1.78"/>
<path d="M254.45 244.80 L254.66 241.56 L255.05 236.00 L255.37 231.59" stroke="#0000ff" stroke-width="1.65"/>
<path d="M255.37 231.59 L255.43 230.68 L255.81 225.57 L256.19 220.68 L256.58 216.00 L256.96 211.51 L257.34 207.22 L257.73 203.11 L258.11 199.17 L258.49 195.41 L258.87 191.81 L259.25 188.37 L259.64 185.08 L260.02 181.93 L260.40 178.93 L260.79 176.06 L261.17 173.33 L261.55 170.71 L261.93 168.22 L262.31 165.85 L262.70 163.58 L263.08 161.43 L263.46 159.37 L263.85 157.42 L264.23 155.56 L264.61 153.79 L264.99 152.11 L265.38 150.52 L265.76 149.00 L266.14 147.56 L266.52 146.20 L266.90 144.91 L267.29 143.69 L267.67 142.53 L268.05 141.44 L268.44 140.41 L268.82 139.43 L269.20 138.52 L269.58 137.65 L269.97 136.84 L270.35 136.08 L270.73 135.36 L271.11 134.69 L271.50 134.07 L271.88 133.48 L272.26 132.94 L272.64 132.43 L273.02 131.96 L273.41 131.53 L273.79 131.13 L274.17 130.76 L274.56 130.42 L274.94 130.12 L275.32 129.84 L275.70 129.58 L276.09 129.36 L276.47 129.15 L276.85 128.98 L277.23 128.82 L277.62 128.69 L278.00 128.57 L278.38 128.48 L278.76 128.40 L279.14 128.35 L279.53 128.31 L279.91 128.28 L280.29 128.28 L280.68 128.28 L281.06 128.30 L281.44 128.34 L281.82 128.39 L282.20 128.45 L282.59 128.52 L282.97 128.60 L283.35 128.69 L283.74 128.80 L284.12 128.91 L284.50 129.03 L284.88 129.16 L285.26 129.30 L285.65 129.44 L286.03 129.60 L286.41 129.76 L286.80 129.92 L287.18 130.09 L287.56 130.27 L287.94 130.46 L288.32 130.64 L288.71 130.84 L289.09 131.04 L289.47 131.24 L289.86 131.44 L290.24 131.65 L290.62 131.87 L291.00 132.08 L291.38 132.30 L291.77 132.53 L292.15 132.75 L292.53 132.98 L292.92 133.21 L293.30 133.44 L293.68 133.67 L294.06 133.91 L294.44 134.14 L294.83 134.38 L295.21 134.62 L295.59 134.86 L295.98 135.10 L296.36 135.34 L296.74 135.58 L297.12 135.83 L297.50 136.07 L297.89 136.31 L298.27 136.56 L298.65 136.80 L299.03 137.04 L299.42 137.29 L299.80 137.53 L300.18 137.78 L300.56 138.02 L300.95 138.26 L301.33 138.50 L301.71 138.75 L302.10 138.99 L302.48 139.23 L302.86 139.47 L303.24 139.71 L303.62 139.95 L304.01 140.18 L304.39 140.42 L304.77 140.66 L305.15 140.89 L305.54 141.13 L305.92 141.36 L306.30 141.59 L306.69 141.82 L307.07 142.05 L307.45 142.28 L307.83 142.51 L308.22 142.73 L308.60 142.96 L308.98 143.18 L309.36 143.41 L309.75 143.63 L310.13 143.85 L310.51 144.07 L310.89 144.28 L311.27 144.50 L311.66 144.71 L312.04 144.93 L312.42 145.14 L312.81 145.35 L313.19 145.56 L313.57 145.77 L313.95 145.97 L314.34 146.18 L314.72 146.38 L315.10 146.58 L315.48 146.78 L315.87 146.98 L316.25 147.18 L316.63 147.38 L317.01 147.57 L317.39 147.76 L317.78 147.96 L318.16 148.15 L318.54 148.33 L318.93 148.52 L319.31 148.71 L319.69 148.89 L320.07 149.08 L320.45 149.26 L320.84 149.44 L321.22 149.62 L321.60 149.80 L321.99 149.97 L322.37 150.15 L322.75 150.32 L323.13 150.49 L323.51 150.66 L323.90 150.83 L324.28 151.00 L324.66 151.17 L325.05 151.33 L325.43 151.50 L325.81 151.66 L326.19 151.82 L326.57 151.98 L326.96 152.14 L327.34 152.29 L327.72 152.45 L328.11 152.60 L328.49 152.76 L328.87 152.91 L329.25 153.06 L329.63 153.21 L330.02 153.36 L330.40 153.51 L330.78 153.65 L331.17 153.80 L331.55 153.94 L331.93 154.08 L332.31 154.22 L332.69 154.36 L333.08 154.50 L333.46 154.64 L333.84 154.77 L334.23 154.91 L334.61 155.04 L334.99 155.18 L335.37 155.31 L335.75 155.44 L336.14 155.57 L336.52 155.69 L336.90 155.82 L337.28 155.95 L337.67 156.07 L338.05 156.20 L338.43 156.32 L338.81 156.44 L339.20 156.56 L339.58 156.68 L339.96 156.80 L340.35 156.92 L340.73 157.03 L341.11 157.15 L341.49 157.26 L341.88 157.38 L342.26 157.49 L342.64 157.60 L343.02 157.71 L343.40 157.82 L343.79 157.93 L344.17 158.04 L344.55 158.15 L344.94 158.25 L345.32 158.36 L345.70 158.46 L346.08 158.57 L346.47 158.67 L346.85 158.77 L347.23 158.87 L347.61 158.97 L348.00 159.07 L348.38 159.17 L348.76 159.27 L349.14 159.36 L349.52 159.46 L349.91 159.55 L350.29 159.65 L350.67 159.74 L351.06 159.83 L351.44 159.92 L351.82 160.02 L352.20 160.11 L352.59 160.19 L352.97 160.28 L353.35 160.37 L353.73 160.46 L354.12 160.54 L354.50 160.63 L354.88 160.72 L355.26 160.80 L355.64 160.88 L356.03 160.97 L356.41 161.05 L356.79 161.13 L357.17 161.21 L357.56 161.29 L357.94 161.37 L358.32 161.45 L358.70 161.53 L359.09 161.60 L359.47 161.68 L359.85 161.76 L360.24 161.83 L360.62 161.91 L361.00 161.98 L361.38 162.06 L361.76 162.13 L362.15 162.20 L362.53 162.27 L362.91 162.34 L363.30 162.41 L363.68 162.49 L364.06 162.55 L364.44 162.62 L364.82 162.69 L365.21 162.76 L365.59 162.83 L365.97 162.89 L366.36 162.96 L366.74 163.03 L367.12 163.09 L367.50 163.16 L367.88 163.22 L368.27 163.28 L368.65 163.35 L369.03 163.41 L369.41 163.47 L369.80 163.53 L370.18 163.59 L370.56 163.65 L370.94 163.71 L371.33 163.77 L371.71 163.83 L372.09 163.89 L372.48 163.95 L372.86 164.01 L373.24 164.06 L373.62 164.12 L374.00 164.18 L374.39 164.23 L374.77 164.29 L375.15 164.34 L375.53 164.40 L375.92 164.45 L376.30 164.50 L376.68 164.56 L377.06 164.61 L377.45 164.66 L377.83 164.72 L378.21 164.77 L378.60 164.82 L378.98 164.87 L379.36 164.92 L379.74 164.97 L380.12 165.02 L380.51 165.07 L380.89 165.12 L381.27 165.17 L381.65 165.21 L382.04 165.26 L382.42 165.31 L382.80 165.36 L383.19 165.40 L383.57 165.45 L383.95 165.49 L384.33 165.54 L384.72 165.58 L385.10 165.63 L385.48 165.67 L385.86 165.72 L386.25 165.76 L386.63 165.81 L387.01 165.85 L387.39 165.89 L387.77 165.93 L388.16 165.98 L388.54 166.02 L388.92 166.06 L389.31 166.10 L389.69 166.14 L390.07 166.18 L390.45 166.22 L390.84 166.26 L391.22 166.30 L391.60 166.34 L391.98 166.38 L392.37 166.42 L392.75 166.46 L393.13 166.50 L393.51 166.53 L393.89 166.57 L394.28 166.61 L394.66 166.65 L395.04 166.68 L395.43 166.72 L395.81 166.76 L396.19 166.79 L396.57 166.83 L396.96 166.86 L397.34 166.90 L397.72 166.93 L398.10 166.97 L398.49 167.00 L398.87 167.04 L399.25 167.07 L399.63 167.11 L400.01 167.14 L400.40 167.17 L400.78 167.21 L401.16 167.24 L401.55 167.27 L401.93 167.30 L402.31 167.34 L402.69 167.37 L403.08 167.40 L403.46 167.43 L403.84 167.46 L404.22 167.49 L404.61 167.52 L404.99 167.55 L405.37 167.58 L405.75 167.61 L406.13 167.64 L406.52 167.67 L406.90 167.70 L407.28 167.73 L407.66 167.76 L408.05 167.79 L408.43 167.82 L408.81 167.85 L409.19 167.88 L409.58 167.90 L409.96 167.93 L410.34 167.96 L410.73 167.99 L411.11 168.01 L411.49 168.04 L411.87 168.07 L412.25 168.09 L412.64 168.12 L413.02 168.15 L413.40 168.17 L413.78 168.20 L414.17 168.23 L414.55 168.25 L414.93 168.28 L415.31 168.30 L415.70 168.33 L416.08 168.35 L416.46 168.38 L416.85 168.40 L417.23 168.43 L417.61 168.45 L417.99 168.47 L418.38 168.50 L418.76 168.52 L419.14 168.55 L419.52 168.57 L419.90 168.59 L420.29 168.62 L420.67 168.64 L421.05 168.66 L421.44 168.68 L421.82 168.71 L422.20 168.73 L422.58 168.75 L422.97 168.77 L423.35 168.79 L423.73 168.82 L424.11 168.84 L424.50 168.86 L424.88 168.88 L425.26 168.90 L425.64 168.92 L426.02 168.94 L426.41 168.97 L426.79 168.99 L427.17 169.01 L427.56 169.03 L427.94 169.05 L428.32 169.07 L428.70 169.09 L429.09 169.11 L429.47 169.13 L429.85 169.15 L430.23 169.17 L430.62 169.19 L431.00 169.20 L431.38 169.22 L431.76 169.24 L432.14 169.26 L432.53 169.28 L432.91 169.30 L433.29 169.32 L433.68 169.34 L434.06 169.35 L434.44 169.37 L434.82 169.39 L435.21 169.41 L435.59 169.43 L435.97 169.44 L436.35 169.46 L436.74 169.48 L437.12 169.50 L437.50 169.51" stroke="#0000ff" stroke-width="1.65" stroke-dasharray="7.45 4.5" stroke-dashoffset="7.45"/>
<path d="M239.74 247.50 L239.75 247.33 L240.13 233.86 L240.51 221.16 L240.89 209.20 L241.28 197.94 L241.66 187.36 L242.04 177.43 L242.43 168.11 L242.81 159.39 L243.19 151.23 L243.57 143.61 L243.96 136.50 L244.34 129.89 L244.72 123.74 L245.10 118.03 L245.49 112.75 L245.87 107.87 L246.25 103.37 L246.63 99.23 L246.72 98.35" stroke="#ff0000" stroke-width="1.75" stroke-dasharray="4.3 2.8" stroke-dashoffset="0.55"/>
<path d="M267.54 98.35 L267.67 98.70 L268.05 99.77 L268.44 100.83 L268.82 101.88 L269.20 102.92 L269.58 103.95 L269.97 104.97 L270.35 105.98 L270.73 106.99 L271.11 107.98 L271.50 108.96 L271.88 109.93 L272.26 110.89 L272.64 111.84 L273.02 112.77 L273.41 113.70 L273.79 114.61 L274.17 115.51 L274.56 116.40 L274.94 117.27 L275.32 118.14 L275.70 118.99 L276.09 119.83 L276.47 120.65 L276.85 121.47 L277.23 122.27 L277.62 123.06 L278.00 123.84 L278.38 124.61 L278.76 125.36 L279.14 126.10 L279.53 126.83 L279.91 127.55 L280.29 128.26 L280.68 128.96 L281.06 129.64 L281.44 130.31 L281.82 130.98 L282.20 131.63 L282.59 132.27 L282.97 132.90 L283.35 133.52 L283.74 134.13 L284.12 134.73 L284.50 135.31 L284.88 135.89 L285.26 136.46 L285.65 137.02 L286.03 137.57 L286.41 138.11 L286.80 138.64 L287.18 139.16 L287.56 139.68 L287.94 140.18 L288.32 140.68 L288.71 141.16 L289.09 141.64 L289.47 142.11 L289.86 142.57 L290.24 143.03 L290.62 143.47 L291.00 143.91 L291.38 144.34 L291.77 144.77 L292.15 145.18 L292.53 145.59 L292.92 145.99 L293.30 146.39 L293.68 146.78 L294.06 147.16 L294.44 147.53 L294.83 147.90 L295.21 148.26 L295.59 148.62 L295.98 148.97 L296.36 149.31 L296.74 149.65 L297.12 149.98 L297.50 150.31 L297.89 150.63 L298.27 150.94 L298.65 151.25 L299.03 151.56 L299.42 151.86 L299.80 152.15 L300.18 152.44 L300.56 152.73 L300.95 153.01 L301.33 153.28 L301.71 153.55 L302.10 153.82 L302.48 154.08 L302.86 154.33 L303.24 154.59 L303.62 154.83 L304.01 155.08 L304.39 155.32 L304.77 155.56 L305.15 155.79 L305.54 156.02 L305.92 156.24 L306.30 156.46 L306.69 156.68 L307.07 156.89 L307.45 157.10 L307.83 157.31 L308.22 157.51 L308.60 157.71 L308.98 157.91 L309.36 158.10 L309.75 158.30 L310.13 158.48 L310.51 158.67 L310.89 158.85 L311.27 159.03 L311.66 159.20 L312.04 159.38 L312.42 159.55 L312.81 159.72 L313.19 159.88 L313.57 160.04 L313.95 160.20 L314.34 160.36 L314.72 160.52 L315.10 160.67 L315.48 160.82 L315.87 160.97 L316.25 161.11 L316.63 161.25 L317.01 161.40 L317.39 161.53 L317.78 161.67 L318.16 161.81 L318.54 161.94 L318.93 162.07 L319.31 162.20 L319.69 162.33 L320.07 162.45 L320.45 162.57 L320.84 162.70 L321.22 162.81 L321.60 162.93 L321.99 163.05 L322.37 163.16 L322.75 163.28 L323.13 163.39 L323.51 163.50 L323.90 163.60 L324.28 163.71 L324.66 163.81 L325.05 163.92 L325.43 164.02 L325.81 164.12 L326.19 164.22 L326.57 164.31 L326.96 164.41 L327.34 164.50 L327.72 164.60 L328.11 164.69 L328.49 164.78 L328.87 164.87 L329.25 164.96 L329.63 165.04 L330.02 165.13 L330.40 165.21 L330.78 165.30 L331.17 165.38 L331.55 165.46 L331.93 165.54 L332.31 165.62 L332.69 165.70 L333.08 165.77 L333.46 165.85 L333.84 165.92 L334.23 166.00 L334.61 166.07 L334.99 166.14 L335.37 166.21 L335.75 166.28 L336.14 166.35 L336.52 166.42 L336.90 166.49 L337.28 166.55 L337.67 166.62 L338.05 166.68 L338.43 166.74 L338.81 166.81 L339.20 166.87 L339.58 166.93 L339.96 166.99 L340.35 167.05 L340.73 167.11 L341.11 167.17 L341.49 167.22 L341.88 167.28 L342.26 167.34 L342.64 167.39 L343.02 167.45 L343.40 167.50 L343.79 167.55 L344.17 167.60 L344.55 167.66 L344.94 167.71 L345.32 167.76 L345.70 167.81 L346.08 167.86 L346.47 167.91 L346.85 167.95 L347.23 168.00 L347.61 168.05 L348.00 168.09 L348.38 168.14 L348.76 168.18 L349.14 168.23 L349.52 168.27 L349.91 168.32 L350.29 168.36 L350.67 168.40 L351.06 168.44 L351.44 168.49 L351.82 168.53 L352.20 168.57 L352.59 168.61 L352.97 168.65 L353.35 168.69 L353.73 168.72 L354.12 168.76 L354.50 168.80 L354.88 168.84 L355.26 168.87 L355.64 168.91 L356.03 168.95 L356.41 168.98 L356.79 169.02 L357.17 169.05 L357.56 169.09 L357.94 169.12 L358.32 169.15 L358.70 169.19 L359.09 169.22 L359.47 169.25 L359.85 169.28 L360.24 169.32 L360.62 169.35 L361.00 169.38 L361.38 169.41 L361.76 169.44 L362.15 169.47 L362.53 169.50 L362.91 169.53 L363.30 169.56 L363.68 169.59 L364.06 169.62 L364.44 169.64 L364.82 169.67 L365.21 169.70 L365.59 169.73 L365.97 169.75 L366.36 169.78 L366.74 169.81 L367.12 169.83 L367.50 169.86 L367.88 169.88 L368.27 169.91 L368.65 169.93 L369.03 169.96 L369.41 169.98 L369.80 170.01 L370.18 170.03 L370.56 170.06 L370.94 170.08 L371.33 170.10 L371.71 170.13 L372.09 170.15 L372.48 170.17 L372.86 170.19 L373.24 170.21 L373.62 170.24 L374.00 170.26 L374.39 170.28 L374.77 170.30 L375.15 170.32 L375.53 170.34 L375.92 170.36 L376.30 170.38 L376.68 170.40 L377.06 170.42 L377.45 170.44 L377.83 170.46 L378.21 170.48 L378.60 170.50 L378.98 170.52 L379.36 170.54 L379.74 170.56 L380.12 170.58 L380.51 170.59 L380.89 170.61 L381.27 170.63 L381.65 170.65 L382.04 170.67 L382.42 170.68 L382.80 170.70 L383.19 170.72 L383.57 170.73 L383.95 170.75 L384.33 170.77 L384.72 170.78 L385.10 170.80 L385.48 170.82 L385.86 170.83 L386.25 170.85 L386.63 170.86 L387.01 170.88 L387.39 170.89 L387.77 170.91 L388.16 170.92 L388.54 170.94 L388.92 170.95 L389.31 170.97 L389.69 170.98 L390.07 171.00 L390.45 171.01 L390.84 171.03 L391.22 171.04 L391.60 171.05 L391.98 171.07 L392.37 171.08 L392.75 171.10 L393.13 171.11 L393.51 171.12 L393.89 171.13 L394.28 171.15 L394.66 171.16 L395.04 171.17 L395.43 171.19 L395.81 171.20 L396.19 171.21 L396.57 171.22 L396.96 171.24 L397.34 171.25 L397.72 171.26 L398.10 171.27 L398.49 171.28 L398.87 171.30 L399.25 171.31 L399.63 171.32 L400.01 171.33 L400.40 171.34 L400.78 171.35 L401.16 171.36 L401.55 171.37 L401.93 171.39 L402.31 171.40 L402.69 171.41 L403.08 171.42 L403.46 171.43 L403.84 171.44 L404.22 171.45 L404.61 171.46 L404.99 171.47 L405.37 171.48 L405.75 171.49 L406.13 171.50 L406.52 171.51 L406.90 171.52 L407.28 171.53 L407.66 171.54 L408.05 171.55 L408.43 171.56 L408.81 171.57 L409.19 171.58 L409.58 171.59 L409.96 171.59 L410.34 171.60 L410.73 171.61 L411.11 171.62 L411.49 171.63 L411.87 171.64 L412.25 171.65 L412.64 171.66 L413.02 171.67 L413.40 171.67 L413.78 171.68 L414.17 171.69 L414.55 171.70 L414.93 171.71 L415.31 171.72 L415.70 171.72 L416.08 171.73 L416.46 171.74 L416.85 171.75 L417.23 171.76 L417.61 171.76 L417.99 171.77 L418.38 171.78 L418.76 171.79 L419.14 171.79 L419.52 171.80 L419.90 171.81 L420.29 171.82 L420.67 171.82 L421.05 171.83 L421.44 171.84 L421.82 171.85 L422.20 171.85 L422.58 171.86 L422.97 171.87 L423.35 171.87 L423.73 171.88 L424.11 171.89 L424.50 171.89 L424.88 171.90 L425.26 171.91 L425.64 171.91 L426.02 171.92 L426.41 171.93 L426.79 171.93 L427.17 171.94 L427.56 171.95 L427.94 171.95 L428.32 171.96 L428.70 171.97 L429.09 171.97 L429.47 171.98 L429.85 171.98 L430.23 171.99 L430.62 172.00 L431.00 172.00 L431.38 172.01 L431.76 172.01 L432.14 172.02 L432.53 172.03 L432.91 172.03 L433.29 172.04 L433.68 172.04 L434.06 172.05 L434.44 172.05 L434.82 172.06 L435.21 172.06 L435.59 172.07 L435.97 172.08 L436.35 172.08 L436.74 172.09 L437.12 172.09 L437.50 172.10" stroke="#ff0000" stroke-width="1.75" stroke-dasharray="5.0 3.15" stroke-dashoffset="1.17"/>
<path d="M257.22 247.50 L257.34 246.49 L257.73 243.43 L258.11 240.49 L258.49 237.68 L258.87 234.99 L259.25 232.41 L259.64 229.94 L260.02 227.57 L260.40 225.31 L260.79 223.14 L261.17 221.07 L261.55 219.08 L261.93 217.17 L262.31 215.35 L262.70 213.60 L263.08 211.93 L263.46 210.32 L263.85 208.79 L264.23 207.32 L264.61 205.91 L264.99 204.56 L265.38 203.27 L265.76 202.03 L266.14 200.85 L266.52 199.71 L266.90 198.62 L267.29 197.58 L267.67 196.58 L268.05 195.62 L268.44 194.70 L268.82 193.82 L269.20 192.98 L269.58 192.17 L269.97 191.39 L270.35 190.65 L270.73 189.94 L271.11 189.26 L271.50 188.60 L271.88 187.98 L272.26 187.38 L272.64 186.80 L273.02 186.25 L273.41 185.72 L273.79 185.21 L274.17 184.72 L274.56 184.25 L274.94 183.80 L275.32 183.37 L275.70 182.96 L276.09 182.56 L276.47 182.18 L276.85 181.82 L277.23 181.47 L277.62 181.13 L278.00 180.81 L278.38 180.50 L278.76 180.21 L279.14 179.92 L279.53 179.65 L279.91 179.39 L280.29 179.13 L280.68 178.89 L281.06 178.66 L281.44 178.44 L281.82 178.22 L282.20 178.02 L282.59 177.82 L282.97 177.63 L283.35 177.45 L283.74 177.28 L284.12 177.11 L284.50 176.95 L284.88 176.79 L285.26 176.64 L285.65 176.50 L286.03 176.36 L286.41 176.23 L286.80 176.11 L287.18 175.98 L287.56 175.87 L287.94 175.76 L288.32 175.65 L288.71 175.54 L289.09 175.44 L289.47 175.35 L289.86 175.26 L290.24 175.17 L290.62 175.08 L291.00 175.00 L291.38 174.92 L291.77 174.85 L292.15 174.78 L292.53 174.71 L292.92 174.64 L293.30 174.58 L293.68 174.51 L294.06 174.46 L294.44 174.40 L294.83 174.34 L295.21 174.29 L295.59 174.24 L295.98 174.19 L296.36 174.14 L296.74 174.10 L297.12 174.06 L297.50 174.02 L297.89 173.98 L298.27 173.94 L298.65 173.90 L299.03 173.86 L299.42 173.83 L299.80 173.80 L300.18 173.77 L300.56 173.74 L300.95 173.71 L301.33 173.68 L301.71 173.65 L302.10 173.63 L302.48 173.60 L302.86 173.58 L303.24 173.56 L303.62 173.53 L304.01 173.51 L304.39 173.49 L304.77 173.47 L305.15 173.45 L305.54 173.44 L305.92 173.42 L306.30 173.40 L306.69 173.39 L307.07 173.37 L307.45 173.36 L307.83 173.34 L308.22 173.33 L308.60 173.32 L308.98 173.30 L309.36 173.29 L309.75 173.28 L310.13 173.27 L310.51 173.26 L310.89 173.25 L311.27 173.24 L311.66 173.23 L312.04 173.22 L312.42 173.21 L312.81 173.20 L313.19 173.20 L313.57 173.19 L313.95 173.18 L314.34 173.18 L314.72 173.17 L315.10 173.16 L315.48 173.16 L315.87 173.15 L316.25 173.15 L316.63 173.14 L317.01 173.13 L317.39 173.13 L317.78 173.13 L318.16 173.12 L318.54 173.12 L318.93 173.11 L319.31 173.11 L319.69 173.11 L320.07 173.10 L320.45 173.10 L320.84 173.10 L321.22 173.09 L321.60 173.09 L321.99 173.09 L322.37 173.08 L322.75 173.08 L323.13 173.08 L323.51 173.08 L323.90 173.08 L324.28 173.07 L324.66 173.07 L325.05 173.07 L325.43 173.07 L325.81 173.07 L326.19 173.07 L326.57 173.06 L326.96 173.06 L327.34 173.06 L327.72 173.06 L328.11 173.06 L328.49 173.06 L328.87 173.06 L329.25 173.06 L329.63 173.06 L330.02 173.06 L330.40 173.05 L330.78 173.05 L331.17 173.05 L331.55 173.05 L331.93 173.05 L332.31 173.05 L332.69 173.05 L333.08 173.05 L333.46 173.05 L333.84 173.05 L334.23 173.05 L334.61 173.05 L334.99 173.05 L335.37 173.05 L335.75 173.05 L336.14 173.05 L336.52 173.05 L336.90 173.05 L337.28 173.05 L337.67 173.05 L338.05 173.05 L338.43 173.05 L338.81 173.05 L339.20 173.05 L339.58 173.05 L339.96 173.05 L340.35 173.05 L340.73 173.05 L341.11 173.05 L341.49 173.05 L341.88 173.05 L342.26 173.05 L342.64 173.05 L343.02 173.05 L343.40 173.05 L343.79 173.05 L344.17 173.05 L344.55 173.06 L344.94 173.06 L345.32 173.06 L345.70 173.06 L346.08 173.06 L346.47 173.06 L346.85 173.06 L347.23 173.06 L347.61 173.06 L348.00 173.06 L348.38 173.06 L348.76 173.06 L349.14 173.06 L349.52 173.06 L349.91 173.06 L350.29 173.06 L350.67 173.06 L351.06 173.06 L351.44 173.06 L351.82 173.06 L352.20 173.06 L352.59 173.06 L352.97 173.06 L353.35 173.07 L353.73 173.07 L354.12 173.07 L354.50 173.07 L354.88 173.07 L355.26 173.07 L355.64 173.07 L356.03 173.07 L356.41 173.07 L356.79 173.07 L357.17 173.07 L357.56 173.07 L357.94 173.07 L358.32 173.07 L358.70 173.07 L359.09 173.07 L359.47 173.07 L359.85 173.07 L360.24 173.07 L360.62 173.07 L361.00 173.07 L361.38 173.07 L361.76 173.08 L362.15 173.08 L362.53 173.08 L362.91 173.08 L363.30 173.08 L363.68 173.08 L364.06 173.08 L364.44 173.08 L364.82 173.08 L365.21 173.08 L365.59 173.08 L365.97 173.08 L366.36 173.08 L366.74 173.08 L367.12 173.08 L367.50 173.08 L367.88 173.08 L368.27 173.08 L368.65 173.08 L369.03 173.08 L369.41 173.08 L369.80 173.08 L370.18 173.08 L370.56 173.08 L370.94 173.08 L371.33 173.09 L371.71 173.09 L372.09 173.09 L372.48 173.09 L372.86 173.09 L373.24 173.09 L373.62 173.09 L374.00 173.09 L374.39 173.09 L374.77 173.09 L375.15 173.09 L375.53 173.09 L375.92 173.09 L376.30 173.09 L376.68 173.09 L377.06 173.09 L377.45 173.09 L377.83 173.09 L378.21 173.09 L378.60 173.09 L378.98 173.09 L379.36 173.09 L379.74 173.09 L380.12 173.09 L380.51 173.09 L380.89 173.09 L381.27 173.09 L381.65 173.09 L382.04 173.09 L382.42 173.09 L382.80 173.09 L383.19 173.09 L383.57 173.10 L383.95 173.10 L384.33 173.10 L384.72 173.10 L385.10 173.10 L385.48 173.10 L385.86 173.10 L386.25 173.10 L386.63 173.10 L387.01 173.10 L387.39 173.10 L387.77 173.10 L388.16 173.10 L388.54 173.10 L388.92 173.10 L389.31 173.10 L389.69 173.10 L390.07 173.10 L390.45 173.10 L390.84 173.10 L391.22 173.10 L391.60 173.10 L391.98 173.10 L392.37 173.10 L392.75 173.10 L393.13 173.10 L393.51 173.10 L393.89 173.10 L394.28 173.10 L394.66 173.10 L395.04 173.10 L395.43 173.10 L395.81 173.10 L396.19 173.10 L396.57 173.10 L396.96 173.10 L397.34 173.10 L397.72 173.10 L398.10 173.10 L398.49 173.10 L398.87 173.10 L399.25 173.10 L399.63 173.10 L400.01 173.10 L400.40 173.10 L400.78 173.10 L401.16 173.10 L401.55 173.10 L401.93 173.10 L402.31 173.10 L402.69 173.10 L403.08 173.10 L403.46 173.10 L403.84 173.10 L404.22 173.10 L404.61 173.10 L404.99 173.11 L405.37 173.11 L405.75 173.11 L406.13 173.11 L406.52 173.11 L406.90 173.11 L407.28 173.11 L407.66 173.11 L408.05 173.11 L408.43 173.11 L408.81 173.11 L409.19 173.11 L409.58 173.11 L409.96 173.11 L410.34 173.11 L410.73 173.11 L411.11 173.11 L411.49 173.11 L411.87 173.11 L412.25 173.11 L412.64 173.11 L413.02 173.11 L413.40 173.11 L413.78 173.11 L414.17 173.11 L414.55 173.11 L414.93 173.11 L415.31 173.11 L415.70 173.11 L416.08 173.11 L416.46 173.11 L416.85 173.11 L417.23 173.11 L417.61 173.11 L417.99 173.11 L418.38 173.11 L418.76 173.11 L419.14 173.11 L419.52 173.11 L419.90 173.11 L420.29 173.11 L420.67 173.11 L421.05 173.11 L421.44 173.11 L421.82 173.11 L422.20 173.11 L422.58 173.11 L422.97 173.11 L423.35 173.11 L423.73 173.11 L424.11 173.11 L424.50 173.11 L424.88 173.11 L425.26 173.11 L425.64 173.11 L426.02 173.11 L426.41 173.11 L426.79 173.11 L427.17 173.11 L427.56 173.11 L427.94 173.11 L428.32 173.11 L428.70 173.11 L429.09 173.11 L429.47 173.11 L429.85 173.11 L430.23 173.11 L430.62 173.11 L431.00 173.11 L431.38 173.11 L431.76 173.11 L432.14 173.11 L432.53 173.11 L432.91 173.11 L433.29 173.11 L433.68 173.11 L434.06 173.11 L434.44 173.11 L434.82 173.11 L435.21 173.11 L435.59 173.11 L435.97 173.11 L436.35 173.11 L436.74 173.11 L437.12 173.11 L437.50 173.11" stroke="#bc0000" stroke-width="1.90"/>
<path d="M274.32 247.50 L274.56 246.36 L274.94 244.57 L275.32 242.82 L275.70 241.13 L276.09 239.48 L276.47 237.87 L276.85 236.31 L277.23 234.79 L277.62 233.32 L278.00 231.88 L278.38 230.48 L278.76 229.12 L279.14 227.80 L279.53 226.51 L279.91 225.26 L280.29 224.04 L280.68 222.86 L281.06 221.70 L281.44 220.58 L281.82 219.49 L282.20 218.42 L282.59 217.38 L282.97 216.37 L283.35 215.39 L283.74 214.43 L284.12 213.50 L284.50 212.59 L284.88 211.71 L285.26 210.84 L285.65 210.00 L286.03 209.19 L286.41 208.39 L286.80 207.61 L287.18 206.85 L287.56 206.12 L287.94 205.40 L288.32 204.70 L288.71 204.01 L289.09 203.34 L289.47 202.69 L289.86 202.06 L290.24 201.44 L290.62 200.84 L291.00 200.25 L291.38 199.68 L291.77 199.12 L292.15 198.57 L292.53 198.04 L292.92 197.52 L293.30 197.01 L293.68 196.52 L294.06 196.04 L294.44 195.57 L294.83 195.11 L295.21 194.66 L295.59 194.22 L295.98 193.79 L296.36 193.37 L296.74 192.97 L297.12 192.57 L297.50 192.18 L297.89 191.80 L298.27 191.43 L298.65 191.06 L299.03 190.71 L299.42 190.36 L299.80 190.03 L300.18 189.70 L300.56 189.37 L300.95 189.06 L301.33 188.75 L301.71 188.45 L302.10 188.15 L302.48 187.87 L302.86 187.59 L303.24 187.31 L303.62 187.04 L304.01 186.78 L304.39 186.52 L304.77 186.27 L305.15 186.03 L305.54 185.78 L305.92 185.55 L306.30 185.32 L306.69 185.09 L307.07 184.87 L307.45 184.66 L307.83 184.45 L308.22 184.24 L308.60 184.04 L308.98 183.84 L309.36 183.65 L309.75 183.46 L310.13 183.28 L310.51 183.09 L310.89 182.92 L311.27 182.74 L311.66 182.57 L312.04 182.41 L312.42 182.24 L312.81 182.08 L313.19 181.93 L313.57 181.77 L313.95 181.62 L314.34 181.48 L314.72 181.33 L315.10 181.19 L315.48 181.05 L315.87 180.92 L316.25 180.79 L316.63 180.66 L317.01 180.53 L317.39 180.41 L317.78 180.28 L318.16 180.16 L318.54 180.05 L318.93 179.93 L319.31 179.82 L319.69 179.71 L320.07 179.60 L320.45 179.49 L320.84 179.39 L321.22 179.29 L321.60 179.19 L321.99 179.09 L322.37 178.99 L322.75 178.90 L323.13 178.80 L323.51 178.71 L323.90 178.62 L324.28 178.54 L324.66 178.45 L325.05 178.37 L325.43 178.28 L325.81 178.20 L326.19 178.12 L326.57 178.05 L326.96 177.97 L327.34 177.89 L327.72 177.82 L328.11 177.75 L328.49 177.68 L328.87 177.61 L329.25 177.54 L329.63 177.47 L330.02 177.40 L330.40 177.34 L330.78 177.28 L331.17 177.21 L331.55 177.15 L331.93 177.09 L332.31 177.03 L332.69 176.97 L333.08 176.92 L333.46 176.86 L333.84 176.81 L334.23 176.75 L334.61 176.70 L334.99 176.65 L335.37 176.59 L335.75 176.54 L336.14 176.50 L336.52 176.45 L336.90 176.40 L337.28 176.35 L337.67 176.31 L338.05 176.26 L338.43 176.22 L338.81 176.17 L339.20 176.13 L339.58 176.09 L339.96 176.04 L340.35 176.00 L340.73 175.96 L341.11 175.92 L341.49 175.88 L341.88 175.85 L342.26 175.81 L342.64 175.77 L343.02 175.74 L343.40 175.70 L343.79 175.66 L344.17 175.63 L344.55 175.60 L344.94 175.56 L345.32 175.53 L345.70 175.50 L346.08 175.46 L346.47 175.43 L346.85 175.40 L347.23 175.37 L347.61 175.34 L348.00 175.31 L348.38 175.28 L348.76 175.26 L349.14 175.23 L349.52 175.20 L349.91 175.17 L350.29 175.15 L350.67 175.12 L351.06 175.09 L351.44 175.07 L351.82 175.04 L352.20 175.02 L352.59 174.99 L352.97 174.97 L353.35 174.95 L353.73 174.92 L354.12 174.90 L354.50 174.88 L354.88 174.86 L355.26 174.83 L355.64 174.81 L356.03 174.79 L356.41 174.77 L356.79 174.75 L357.17 174.73 L357.56 174.71 L357.94 174.69 L358.32 174.67 L358.70 174.65 L359.09 174.63 L359.47 174.62 L359.85 174.60 L360.24 174.58 L360.62 174.56 L361.00 174.54 L361.38 174.53 L361.76 174.51 L362.15 174.49 L362.53 174.48 L362.91 174.46 L363.30 174.45 L363.68 174.43 L364.06 174.41 L364.44 174.40 L364.82 174.38 L365.21 174.37 L365.59 174.35 L365.97 174.34 L366.36 174.33 L366.74 174.31 L367.12 174.30 L367.50 174.28 L367.88 174.27 L368.27 174.26 L368.65 174.24 L369.03 174.23 L369.41 174.22 L369.80 174.21 L370.18 174.19 L370.56 174.18 L370.94 174.17 L371.33 174.16 L371.71 174.15 L372.09 174.14 L372.48 174.12 L372.86 174.11 L373.24 174.10 L373.62 174.09 L374.00 174.08 L374.39 174.07 L374.77 174.06 L375.15 174.05 L375.53 174.04 L375.92 174.03 L376.30 174.02 L376.68 174.01 L377.06 174.00 L377.45 173.99 L377.83 173.98 L378.21 173.97 L378.60 173.96 L378.98 173.95 L379.36 173.94 L379.74 173.94 L380.12 173.93 L380.51 173.92 L380.89 173.91 L381.27 173.90 L381.65 173.89 L382.04 173.89 L382.42 173.88 L382.80 173.87 L383.19 173.86 L383.57 173.85 L383.95 173.85 L384.33 173.84 L384.72 173.83 L385.10 173.82 L385.48 173.82 L385.86 173.81 L386.25 173.80 L386.63 173.80 L387.01 173.79 L387.39 173.78 L387.77 173.78 L388.16 173.77 L388.54 173.76 L388.92 173.76 L389.31 173.75 L389.69 173.74 L390.07 173.74 L390.45 173.73 L390.84 173.72 L391.22 173.72 L391.60 173.71 L391.98 173.71 L392.37 173.70 L392.75 173.70 L393.13 173.69 L393.51 173.68 L393.89 173.68 L394.28 173.67 L394.66 173.67 L395.04 173.66 L395.43 173.66 L395.81 173.65 L396.19 173.65 L396.57 173.64 L396.96 173.64 L397.34 173.63 L397.72 173.63 L398.10 173.62 L398.49 173.62 L398.87 173.61 L399.25 173.61 L399.63 173.60 L400.01 173.60 L400.40 173.59 L400.78 173.59 L401.16 173.59 L401.55 173.58 L401.93 173.58 L402.31 173.57 L402.69 173.57 L403.08 173.56 L403.46 173.56 L403.84 173.56 L404.22 173.55 L404.61 173.55 L404.99 173.54 L405.37 173.54 L405.75 173.54 L406.13 173.53 L406.52 173.53 L406.90 173.52 L407.28 173.52 L407.66 173.52 L408.05 173.51 L408.43 173.51 L408.81 173.51 L409.19 173.50 L409.58 173.50 L409.96 173.50 L410.34 173.49 L410.73 173.49 L411.11 173.49 L411.49 173.48 L411.87 173.48 L412.25 173.48 L412.64 173.47 L413.02 173.47 L413.40 173.47 L413.78 173.46 L414.17 173.46 L414.55 173.46 L414.93 173.46 L415.31 173.45 L415.70 173.45 L416.08 173.45 L416.46 173.44 L416.85 173.44 L417.23 173.44 L417.61 173.44 L417.99 173.43 L418.38 173.43 L418.76 173.43 L419.14 173.43 L419.52 173.42 L419.90 173.42 L420.29 173.42 L420.67 173.41 L421.05 173.41 L421.44 173.41 L421.82 173.41 L422.20 173.41 L422.58 173.40 L422.97 173.40 L423.35 173.40 L423.73 173.40 L424.11 173.39 L424.50 173.39 L424.88 173.39 L425.26 173.39 L425.64 173.38 L426.02 173.38 L426.41 173.38 L426.79 173.38 L427.17 173.38 L427.56 173.37 L427.94 173.37 L428.32 173.37 L428.70 173.37 L429.09 173.37 L429.47 173.36 L429.85 173.36 L430.23 173.36 L430.62 173.36 L431.00 173.36 L431.38 173.35 L431.76 173.35 L432.14 173.35 L432.53 173.35 L432.91 173.35 L433.29 173.34 L433.68 173.34 L434.06 173.34 L434.44 173.34 L434.82 173.34 L435.21 173.34 L435.59 173.33 L435.97 173.33 L436.35 173.33 L436.74 173.33 L437.12 173.33 L437.50 173.33" stroke="#0000b4" stroke-width="1.90"/>
<path d="M360.47 247.50 L360.62 247.33 L361.00 246.90 L361.38 246.48 L361.76 246.06 L362.15 245.64 L362.53 245.23 L362.91 244.82 L363.30 244.42 L363.68 244.02 L364.06 243.62 L364.44 243.22 L364.82 242.83 L365.21 242.44 L365.59 242.05 L365.97 241.67 L366.36 241.29 L366.74 240.91 L367.12 240.54 L367.50 240.17 L367.88 239.80 L368.27 239.44 L368.65 239.07 L369.03 238.71 L369.41 238.36 L369.80 238.00 L370.18 237.65 L370.56 237.31 L370.94 236.96 L371.33 236.62 L371.71 236.28 L372.09 235.94 L372.48 235.61 L372.86 235.27 L373.24 234.94 L373.62 234.62 L374.00 234.29 L374.39 233.97 L374.77 233.65 L375.15 233.34 L375.53 233.02 L375.92 232.71 L376.30 232.40 L376.68 232.09 L377.06 231.79 L377.45 231.48 L377.83 231.18 L378.21 230.88 L378.60 230.59 L378.98 230.29 L379.36 230.00 L379.74 229.71 L380.12 229.43 L380.51 229.14 L380.89 228.86 L381.27 228.58 L381.65 228.30 L382.04 228.02 L382.42 227.75 L382.80 227.47 L383.19 227.20 L383.57 226.93 L383.95 226.67 L384.33 226.40 L384.72 226.14 L385.10 225.88 L385.48 225.62 L385.86 225.36 L386.25 225.11 L386.63 224.85 L387.01 224.60 L387.39 224.35 L387.77 224.10 L388.16 223.85 L388.54 223.61 L388.92 223.37 L389.31 223.12 L389.69 222.88 L390.07 222.65 L390.45 222.41 L390.84 222.18 L391.22 221.94 L391.60 221.71 L391.98 221.48 L392.37 221.25 L392.75 221.03 L393.13 220.80 L393.51 220.58 L393.89 220.36 L394.28 220.13 L394.66 219.92 L395.04 219.70 L395.43 219.48 L395.81 219.27 L396.19 219.05 L396.57 218.84 L396.96 218.63 L397.34 218.42 L397.72 218.22 L398.10 218.01 L398.49 217.80 L398.87 217.60 L399.25 217.40 L399.63 217.20 L400.01 217.00 L400.40 216.80 L400.78 216.60 L401.16 216.41 L401.55 216.22 L401.93 216.02 L402.31 215.83 L402.69 215.64 L403.08 215.45 L403.46 215.26 L403.84 215.08 L404.22 214.89 L404.61 214.71 L404.99 214.52 L405.37 214.34 L405.75 214.16 L406.13 213.98 L406.52 213.80 L406.90 213.63 L407.28 213.45 L407.66 213.28 L408.05 213.10 L408.43 212.93 L408.81 212.76 L409.19 212.59 L409.58 212.42 L409.96 212.25 L410.34 212.08 L410.73 211.92 L411.11 211.75 L411.49 211.59 L411.87 211.42 L412.25 211.26 L412.64 211.10 L413.02 210.94 L413.40 210.78 L413.78 210.62 L414.17 210.47 L414.55 210.31 L414.93 210.15 L415.31 210.00 L415.70 209.85 L416.08 209.69 L416.46 209.54 L416.85 209.39 L417.23 209.24 L417.61 209.09 L417.99 208.94 L418.38 208.80 L418.76 208.65 L419.14 208.51 L419.52 208.36 L419.90 208.22 L420.29 208.08 L420.67 207.93 L421.05 207.79 L421.44 207.65 L421.82 207.51 L422.20 207.38 L422.58 207.24 L422.97 207.10 L423.35 206.97 L423.73 206.83 L424.11 206.70 L424.50 206.56 L424.88 206.43 L425.26 206.30 L425.64 206.17 L426.02 206.04 L426.41 205.91 L426.79 205.78 L427.17 205.65 L427.56 205.52 L427.94 205.39 L428.32 205.27 L428.70 205.14 L429.09 205.02 L429.47 204.89 L429.85 204.77 L430.23 204.65 L430.62 204.53 L431.00 204.41 L431.38 204.28 L431.76 204.17 L432.14 204.05 L432.53 203.93 L432.91 203.81 L433.29 203.69 L433.68 203.58 L434.06 203.46 L434.44 203.35 L434.82 203.23 L435.21 203.12 L435.59 203.00 L435.97 202.89 L436.35 202.78 L436.74 202.67 L437.12 202.56 L437.50 202.45" stroke="#6e6e6e" stroke-width="0.70"/>
</g>
<path d="M208.00 246.40 v-3.00 M208.00 99.45 v3.00 M215.65 246.40 v-1.80 M223.30 246.40 v-1.80 M223.30 99.45 v1.80 M230.95 246.40 v-1.80 M238.60 246.40 v-1.80 M238.60 99.45 v1.80 M246.25 246.40 v-3.00 M253.90 246.40 v-1.80 M253.90 99.45 v1.80 M261.55 246.40 v-1.80 M269.20 246.40 v-1.80 M269.20 99.45 v1.80 M276.85 246.40 v-1.80 M284.50 246.40 v-3.00 M284.50 99.45 v3.00 M292.15 246.40 v-1.80 M299.80 246.40 v-1.80 M299.80 99.45 v1.80 M307.45 246.40 v-1.80 M315.10 246.40 v-1.80 M315.10 99.45 v1.80 M322.75 246.40 v-3.00 M330.40 246.40 v-1.80 M330.40 99.45 v1.80 M338.05 246.40 v-1.80 M345.70 246.40 v-1.80 M345.70 99.45 v1.80 M353.35 246.40 v-1.80 M361.00 246.40 v-3.00 M361.00 99.45 v3.00 M368.65 246.40 v-1.80 M376.30 246.40 v-1.80 M376.30 99.45 v1.80 M383.95 246.40 v-1.80 M391.60 246.40 v-1.80 M391.60 99.45 v1.80 M399.25 246.40 v-3.00 M406.90 246.40 v-1.80 M406.90 99.45 v1.80 M414.55 246.40 v-1.80 M422.20 246.40 v-1.80 M422.20 99.45 v1.80 M429.85 246.40 v-1.80 M437.50 246.40 v-3.00 M437.50 99.45 v3.00 M203.45 246.25 h1.80 M441.80 246.25 h-1.80 M203.45 239.60 h1.80 M441.80 239.60 h-1.80 M203.45 232.95 h1.80 M441.80 232.95 h-1.80 M203.45 226.30 h3.00 M441.80 226.30 h-3.00 M203.45 219.65 h1.80 M441.80 219.65 h-1.80 M203.45 213.00 h1.80 M441.80 213.00 h-1.80 M203.45 206.35 h1.80 M441.80 206.35 h-1.80 M203.45 199.70 h3.00 M441.80 199.70 h-3.00 M203.45 193.05 h1.80 M441.80 193.05 h-1.80 M203.45 186.40 h1.80 M441.80 186.40 h-1.80 M203.45 179.75 h1.80 M441.80 179.75 h-1.80 M203.45 173.10 h3.00 M441.80 173.10 h-3.00 M203.45 166.45 h1.80 M441.80 166.45 h-1.80 M203.45 159.80 h1.80 M441.80 159.80 h-1.80 M203.45 153.15 h1.80 M441.80 153.15 h-1.80 M203.45 146.50 h3.00 M441.80 146.50 h-3.00 M203.45 139.85 h1.80 M441.80 139.85 h-1.80 M203.45 133.20 h1.80 M441.80 133.20 h-1.80 M203.45 126.55 h1.80 M441.80 126.55 h-1.80 M203.45 119.90 h3.00 M441.80 119.90 h-3.00 M203.45 113.25 h1.80 M441.80 113.25 h-1.80 M203.45 106.60 h1.80 M441.80 106.60 h-1.80 M203.45 99.95 h1.80 M441.80 99.95 h-1.80" stroke="#808080" stroke-width="0.50" fill="none"/>
<rect x="203.45" y="99.45" width="238.35" height="146.95" fill="none" stroke="#6a6a6a" stroke-width="0.60"/>
<path d="M469.30 107.30 H506.00" fill="none" stroke="#0000ff" stroke-width="1.70" stroke-dasharray="9.8 6.1" stroke-dashoffset="0.00"/>
<path d="M469.30 131.70 H506.00" fill="none" stroke="#ff0000" stroke-width="1.70" stroke-dasharray="5.8 3.9" stroke-dashoffset="0.00"/>
<path d="M469.30 155.70 H506.00" fill="none" stroke="#bc0000" stroke-width="1.70"/>
<path d="M469.30 180.00 H506.00" fill="none" stroke="#0000b4" stroke-width="1.70"/>
<path d="M469.30 201.60 H506.00" fill="none" stroke="#8a8a8a" stroke-width="0.70"/>
</svg>
<div id="tx">
<div class="t c tk" style="left:47.50px;top:283.80px;font-size:9.40px">0.0</div>
<div class="t c tk" style="left:113.90px;top:283.80px;font-size:9.40px">0.5</div>
<div class="t c tk" style="left:180.30px;top:283.80px;font-size:9.40px">1.0</div>
<div class="t c tk" style="left:246.70px;top:283.80px;font-size:9.40px">1.5</div>
<div class="t c tk" style="left:313.10px;top:283.80px;font-size:9.40px">2.0</div>
<div class="t c tk" style="left:379.50px;top:283.80px;font-size:9.40px">2.5</div>
<div class="t c tk" style="left:445.90px;top:283.80px;font-size:9.40px">3.0</div>
<div class="t r tk" style="left:35.60px;top:35.20px;font-size:9.40px">0.0</div>
<div class="t r tk" style="left:35.60px;top:80.69px;font-size:9.40px">−0.1</div>
<div class="t r tk" style="left:35.60px;top:126.18px;font-size:9.40px">−0.2</div>
<div class="t r tk" style="left:35.60px;top:171.67px;font-size:9.40px">−0.3</div>
<div class="t r tk" style="left:35.60px;top:217.16px;font-size:9.40px">−0.4</div>
<div class="t r tk" style="left:35.60px;top:262.65px;font-size:9.40px">−0.5</div>
<div class="t c tk" style="left:208.00px;top:255.80px;font-size:9.40px">0.0</div>
<div class="t c tk" style="left:246.25px;top:255.80px;font-size:9.40px">0.5</div>
<div class="t c tk" style="left:284.50px;top:255.80px;font-size:9.40px">1.0</div>
<div class="t c tk" style="left:322.75px;top:255.80px;font-size:9.40px">1.5</div>
<div class="t c tk" style="left:361.00px;top:255.80px;font-size:9.40px">2.0</div>
<div class="t c tk" style="left:399.25px;top:255.80px;font-size:9.40px">2.5</div>
<div class="t c tk" style="left:437.50px;top:255.80px;font-size:9.40px">3.0</div>
<div class="t r tk" style="left:200.00px;top:120.10px;font-size:9.40px">0.004</div>
<div class="t r tk" style="left:200.00px;top:146.70px;font-size:9.40px">0.002</div>
<div class="t r tk" style="left:200.00px;top:173.30px;font-size:9.40px">0.000</div>
<div class="t r tk" style="left:200.00px;top:199.90px;font-size:9.40px">−0.002</div>
<div class="t r tk" style="left:200.00px;top:226.50px;font-size:9.40px">−0.004</div>
<div class="t c" style="left:246.80px;top:9.40px;font-size:11.40px">Taylor series</div>
<div class="t c" style="left:322.50px;top:90.50px;font-size:10.80px">×50</div>
<div class="t c" style="left:246.50px;top:302.10px;font-size:9.35px"><i>μ</i> (a.u.)</div>
<div class="t c rot" style="left:7.20px;top:147.00px;font-size:9.80px">Δ<i>E</i> (a.u.)</div>
<span class="k" id="k0_0" style="left:512.14px;top:102.54px;font-size:11.30px">to</span>
<span class="k" id="k0_1" style="left:525.04px;top:102.54px;font-size:11.30px"><i>O</i></span>
<span class="k" id="k0_2" style="left:534.14px;top:102.54px;font-size:11.30px">(1),</span>
<span class="k" id="k0_3" style="left:555.10px;top:102.54px;font-size:11.30px">x</span>
<span class="k" id="k0_4" style="left:560.86px;top:102.54px;font-size:11.30px">=</span>
<span class="k" id="k0_5" style="left:568.72px;top:102.54px;font-size:11.30px"><i>μ</i></span>
<span class="k" id="k0_6" style="left:576.23px;top:100.46px;font-size:8.70px">-2</span>
<span class="k" id="k1_0" style="left:512.14px;top:126.24px;font-size:11.30px">to</span>
<span class="k" id="k1_1" style="left:525.04px;top:126.24px;font-size:11.30px"><i>O</i></span>
<span class="k" id="k1_2" style="left:534.14px;top:126.24px;font-size:11.30px">(2),</span>
<span class="k" id="k1_3" style="left:555.10px;top:126.24px;font-size:11.30px">x</span>
<span class="k" id="k1_4" style="left:560.86px;top:126.24px;font-size:11.30px">=</span>
<span class="k" id="k1_5" style="left:568.72px;top:126.24px;font-size:11.30px"><i>μ</i></span>
<span class="k" id="k1_6" style="left:576.23px;top:124.16px;font-size:8.70px">-2</span>
<span class="k" id="k2_0" style="left:512.14px;top:150.54px;font-size:11.30px">to</span>
<span class="k" id="k2_1" style="left:525.04px;top:150.54px;font-size:11.30px"><i>O</i></span>
<span class="k" id="k2_2" style="left:534.14px;top:150.54px;font-size:11.30px">(2),</span>
<span class="k" id="k2_3" style="left:558.90px;top:150.54px;font-size:11.30px">x</span>
<span class="k" id="k2_4" style="left:564.66px;top:150.54px;font-size:11.30px">=</span>
<span class="k" id="k2_5" style="left:572.72px;top:150.54px;font-size:11.30px"><i>μ</i></span>
<span class="k" id="k2_6" style="left:580.13px;top:148.46px;font-size:8.70px">-2</span>
<span class="k" id="k2_7" style="left:589.00px;top:150.54px;font-size:11.30px">+</span>
<span class="k" id="k2_8" style="left:595.91px;top:150.54px;font-size:11.30px"><i>κ</i></span>
<span class="k" id="k2_9" style="left:608.72px;top:150.54px;font-size:11.30px"><i>μ</i></span>
<span class="k" id="k2_10" style="left:615.36px;top:148.46px;font-size:8.70px">-3</span>
<span class="k" id="k3_0" style="left:512.14px;top:174.64px;font-size:11.30px">to</span>
<span class="k" id="k3_1" style="left:525.04px;top:174.64px;font-size:11.30px"><i>O</i></span>
<span class="k" id="k3_2" style="left:534.14px;top:174.64px;font-size:11.30px">(1),</span>
<span class="k" id="k3_3" style="left:555.10px;top:174.64px;font-size:11.30px">x</span>
<span class="k" id="k3_4" style="left:560.86px;top:174.64px;font-size:11.30px">=</span>
<span class="k" id="k3_5" style="left:568.82px;top:174.64px;font-size:11.30px"><i>μ</i></span>
<span class="k" id="k3_6" style="left:576.03px;top:172.56px;font-size:8.70px">-2</span>
<span class="k" id="k3_7" style="left:585.00px;top:174.64px;font-size:11.30px">+</span>
<span class="k" id="k3_8" style="left:591.71px;top:174.64px;font-size:11.30px"><i>κ</i></span>
<span class="k" id="k3_9" style="left:604.12px;top:174.64px;font-size:11.30px"><i>μ</i></span>
<span class="k" id="k3_10" style="left:611.06px;top:172.56px;font-size:8.70px">-3</span>
<span class="k" id="k4_0" style="left:511.89px;top:196.84px;font-size:11.30px">E</span>
<span class="k" id="k4_1" style="left:520.08px;top:196.84px;font-size:11.30px">(</span>
<span class="k" id="k4_2" style="left:524.22px;top:196.84px;font-size:11.30px"><i>μ</i></span>
<span class="k" id="k4_3" style="left:531.04px;top:196.84px;font-size:11.30px">)</span>
</div>
</body></html>
